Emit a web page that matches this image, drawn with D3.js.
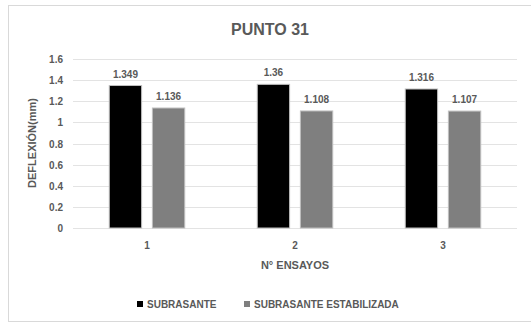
<!DOCTYPE html>
<meta charset="utf-8">
<title>Punto 31</title>
<style>
  body { margin: 0; background: #fff; }
  text { font-family: "Liberation Sans Narrow", "Arial Narrow", "Liberation Sans", sans-serif; fill: #595959; }
</style>
<body>
<svg width="531" height="323"></svg>
<script src="https://d3js.org/d3.v7.min.js"></script>
<script>
  // data
  var ensayos = ["1", "2", "3"];
  var series = ["SUBRASANTE", "SUBRASANTE ESTABILIZADA"];
  var subrasante = [1.349, 1.36, 1.316];
  var estabilizada = [1.136, 1.108, 1.107];
  var yTicks = [0, 0.2, 0.4, 0.6, 0.8, 1, 1.2, 1.4, 1.6];
  var colors = ["#000000", "#7f7f7f"];

  var svg = d3.select("svg");

  // chart frame
  svg.append("rect")
    .attr("x", 8.5).attr("y", 5.5)
    .attr("width", 530).attr("height", 316)
    .attr("fill", "#fff")
    .attr("stroke", "#d9d9d9");

  var margin = { left: 73, right: 517, top: 59, bottom: 228 };

  var x0 = d3.scaleBand().domain(ensayos).range([margin.left, margin.right]).paddingInner(0.49).paddingOuter(0.245);
  var x1 = d3.scaleBand().domain(series).range([0, x0.bandwidth()]).paddingInner(0.25);
  var y = d3.scaleLinear().domain([0, 1.6]).range([margin.bottom, margin.top]);

  // grid
  svg.append("g").selectAll("line")
    .data(yTicks).enter().append("line")
    .attr("x1", margin.left).attr("x2", margin.right)
    .attr("y1", d => Math.round(y(d)) + 0.5).attr("y2", d => Math.round(y(d)) + 0.5)
    .attr("stroke", "#e3e3e3");

  // y tick labels
  svg.append("g").selectAll("text")
    .data(yTicks).enter().append("text")
    .attr("x", 63).attr("y", d => y(d) + 4)
    .attr("text-anchor", "end")
    .attr("font-size", 10).attr("font-weight", "bold")
    .text(d => d);

  var rows = ensayos.map((e, i) => ({ e: e, vals: [subrasante[i], estabilizada[i]] }));

  var grp = svg.append("g").selectAll("g")
    .data(rows).enter().append("g")
    .attr("transform", d => "translate(" + x0(d.e) + ",0)");

  grp.selectAll("rect")
    .data(d => d.vals.map((v, j) => ({ s: series[j], v: v, c: colors[j] })))
    .enter().append("rect")
    .attr("x", d => x1(d.s))
    .attr("y", d => y(d.v))
    .attr("width", x1.bandwidth())
    .attr("height", d => y(0) - y(d.v))
    .attr("fill", d => d.c)
    .attr("stroke", "#bfbfbf")
    .attr("stroke-width", 1);

  grp.selectAll("text")
    .data(d => d.vals.map((v, j) => ({ s: series[j], v: v })))
    .enter().append("text")
    .attr("x", d => x1(d.s) + x1.bandwidth() / 2)
    .attr("y", d => y(d.v) - 8)
    .attr("text-anchor", "middle")
    .attr("font-size", 10).attr("font-weight", "bold")
    .text(d => d.v);

  // x tick labels
  svg.append("g").selectAll("text")
    .data(ensayos).enter().append("text")
    .attr("x", d => x0(d) + x0.bandwidth() / 2)
    .attr("y", 249)
    .attr("text-anchor", "middle")
    .attr("font-size", 10).attr("font-weight", "bold")
    .text(d => d);

  // titles
  svg.append("text")
    .attr("x", 270).attr("y", 35)
    .attr("text-anchor", "middle")
    .attr("font-size", 16).attr("font-weight", "bold")
    .text("PUNTO 31");

  svg.append("text")
    .attr("x", 295).attr("y", 269)
    .attr("text-anchor", "middle")
    .attr("font-size", 11).attr("font-weight", "bold")
    .text("N° ENSAYOS");

  svg.append("text")
    .attr("transform", "translate(36,143) rotate(-90)")
    .attr("text-anchor", "middle")
    .attr("font-size", 11).attr("font-weight", "bold")
    .text("DEFLEXIÓN(mm)");

  // legend
  var legendX = [137, 244];
  var leg = svg.append("g").selectAll("g")
    .data(series).enter().append("g")
    .attr("transform", (d, i) => "translate(" + legendX[i] + ",301)");
  leg.append("rect")
    .attr("width", 6).attr("height", 6)
    .attr("fill", (d, i) => colors[i]);
  leg.append("text")
    .attr("x", 10).attr("y", 7)
    .attr("font-size", 10).attr("font-weight", "bold")
    .text(d => d);
</script>
</body>
